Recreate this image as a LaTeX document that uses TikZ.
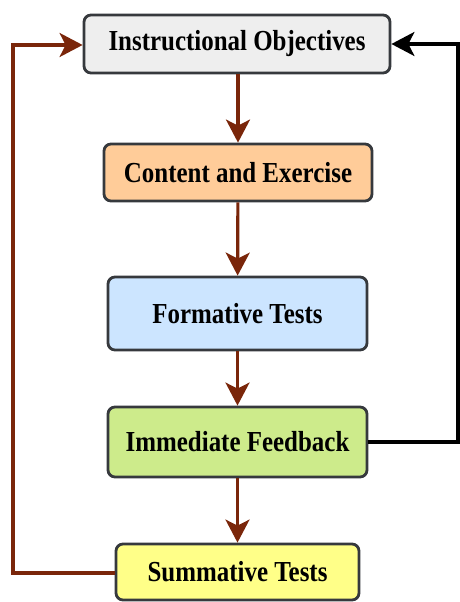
\documentclass[tikz,border=0pt]{standalone}
\usepackage{fontspec}
\usepackage{graphicx}
\setmainfont{Liberation Serif}
\usetikzlibrary{arrows.meta}
\definecolor{brd}{HTML}{36393D}
\definecolor{arr}{RGB}{122,38,10}
\definecolor{cA}{HTML}{EEEEEE}
\definecolor{cB}{HTML}{FFCC99}
\definecolor{cC}{HTML}{CCE5FF}
\definecolor{cD}{HTML}{CDEB8B}
\definecolor{cE}{HTML}{FFFF88}
\newcommand\narrowtext[1]{\scalebox{0.86}[1]{#1}}
\begin{document}
\begin{tikzpicture}[x=1pt,y=-1pt,
  box/.style={draw=brd, line width=2.8pt, rounded corners=7pt, inner sep=0pt,
    font=\fontsize{29}{32}\selectfont\bfseries, text=black},
  link/.style={draw=arr, line width=3.2pt, -{Stealth[length=23pt,width=24pt,inset=6pt]}},
  back/.style={draw=black, line width=3.2pt, -{Stealth[length=23pt,width=24pt,inset=6pt]}}]
\useasboundingbox (0,0) rectangle (460,602);
\node[box, fill=cA, minimum width=306pt, minimum height=58pt] (io) at (237,44) {\narrowtext{Instructional Objectives}};
\node[box, fill=cB, minimum width=268pt, minimum height=57pt] (ce) at (238,172.5) {\narrowtext{Content and Exercise}};
\node[box, fill=cC, minimum width=259pt, minimum height=73pt] (ft) at (237.5,313.5) {\narrowtext{Formative Tests}};
\node[box, fill=cD, minimum width=259pt, minimum height=70pt] (if) at (237.5,442) {\narrowtext{Immediate Feedback}};
\node[box, fill=cE, minimum width=243pt, minimum height=56pt] (st) at (237.5,572) {\narrowtext{Summative Tests}};
\coordinate (l1) at (13,573);
\coordinate (l2) at (13,45);
\coordinate (r1) at (458,442);
\coordinate (r2) at (458,44);
\draw[link] (io.south -| ce.north) -- (ce.north);
\draw[link] (ce) -- (ft);
\draw[link] (ft) -- (if);
\draw[link] (if) -- (st);
\draw[link] (st.west |- l1) -- (l1) -- (l2) -- (l2 -| io.west);
\draw[back] (if.east) -- (r1) -- (r2) -- (io.east);
\end{tikzpicture}
\end{document}
